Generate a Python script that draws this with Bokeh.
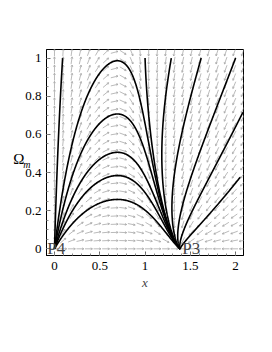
import numpy as np
from bokeh.plotting import figure
from bokeh.models import Label, SingleIntervalTicker, LinearAxis, FixedTicker
from bokeh.embed import file_html
from bokeh.resources import INLINE

# ---- values ----
X_RANGE = (-0.088, 2.087)
Y_RANGE = (-0.035, 1.045)
x_tick_interval = 0.5
y_tick_interval = 0.2
# model parameters of the phase flow (P4 at origin, P3 at (A, 0))
A = 1.39
K = 0.45
S = 0.3
P4 = (0.0, 0.0)
P3 = (A, 0.0)
# arcs P4 -> P3: heights of their maxima
arc_peak_x = 0.695
arc_peaks = [0.986, 0.707, 0.506, 0.384, 0.259]
# trajectories leaving P4: where they end
p4_end_x = [0.09]
p4_end_y = [1.0]
# trajectories entering P3: where they start
p3_start_x = [1.0, 1.29, 1.62, 2.0, 2.08, 2.05]
p3_start_y = [1.0, 1.0, 1.0, 1.0, 0.715, 0.375]
# direction field grid
grid_x = np.linspace(0.0, 2.08, 23)
grid_y = np.linspace(0.0, 1.03, 25)
# y-axis title pieces and where they sit
y_title_main, y_title_main_at = "Ω", 0.472
y_title_sub, y_title_sub_at = "m", 0.443

W, H = 256, 336
BL, BR, BT, BB = 46, 13, 49, 81
SX = (W - BL - BR) / (X_RANGE[1] - X_RANGE[0])
SY = (H - BT - BB) / (Y_RANGE[1] - Y_RANGE[0])
SERIF = "Liberation Serif"


def field(x, w):
    return x * (A - x - K * w * np.tanh((x - A / 2) / S)), w * (A - 2 * x)


def unit(x, w, d):
    vx, vy = field(x, w)
    n = np.hypot(vx * SX, vy * SY)
    if n < 1e-12:
        return 0.0, 0.0
    return d * vx / n, d * vy / n


def integrate(x0, y0, d, h=0.5, nmax=6000):
    xs, ys = [x0], [y0]
    x, y = x0, y0
    for _ in range(nmax):
        k1 = unit(x, y, d)
        k2 = unit(x + h / 2 * k1[0], y + h / 2 * k1[1], d)
        k3 = unit(x + h / 2 * k2[0], y + h / 2 * k2[1], d)
        k4 = unit(x + h * k3[0], y + h * k3[1], d)
        x += h / 6 * (k1[0] + 2 * k2[0] + 2 * k3[0] + k4[0])
        y += h / 6 * (k1[1] + 2 * k2[1] + 2 * k3[1] + k4[1])
        xs.append(x)
        ys.append(y)
        if not (X_RANGE[0] - 0.02 < x < X_RANGE[1] + 0.02 and Y_RANGE[0] - 0.02 < y < 1.0):
            break
        done = False
        for fx, fy in (P4, P3):
            if np.hypot((x - fx) * SX, (y - fy) * SY) < 0.8:
                xs.append(fx)
                ys.append(fy)
                done = True
        if done:
            break
    return xs, ys


def trajectory(x0, y0):
    bx, by = integrate(x0, y0, -1)
    fx, fy = integrate(x0, y0, 1)
    return bx[::-1] + fx[1:], by[::-1] + fy[1:]


p = figure(width=W, height=H, x_range=X_RANGE, y_range=Y_RANGE,
           output_backend="svg", toolbar_location=None,
           min_border_left=BL, min_border_right=BR,
           min_border_top=BT, min_border_bottom=BB)
p.grid.visible = False
p.outline_line_color = "black"
p.outline_line_width = 1
p.background_fill_color = "white"

# direction field
xs0, ys0, xs1, ys1 = [], [], [], []
L = 3.7
for gx in grid_x:
    for gy in grid_y:
        vx, vy = field(gx, gy)
        px, py = vx * SX, vy * SY
        n = np.hypot(px, py)
        if n < 1e-9:
            if gy == 0 and gx == 0:
                px, py, n = 1.0, 0.0, 1.0
            else:
                continue
        ux, uy = px / n, py / n
        tx, ty = gx + L * ux / SX, gy + L * uy / SY
        xs0.append(gx - L * ux / SX); ys0.append(gy - L * uy / SY)
        xs1.append(tx); ys1.append(ty)
        for ang in (0.5, -0.5):
            c, s = np.cos(ang), np.sin(ang)
            hx = -(ux * c - uy * s) * 2.0
            hy = -(ux * s + uy * c) * 2.0
            xs0.append(tx); ys0.append(ty)
            xs1.append(tx + hx / SX); ys1.append(ty + hy / SY)
p.segment(xs0, ys0, xs1, ys1, line_color="#a8a8a8", line_width=0.8)

# trajectories
for h in arc_peaks:
    tx, ty = trajectory(arc_peak_x, h)
    p.line(tx, ty, line_color="black", line_width=1.6)
for sx, sy in zip(p4_end_x, p4_end_y):
    tx, ty = integrate(sx, sy, -1)
    p.line(tx, ty, line_color="black", line_width=1.6)
for sx, sy in zip(p3_start_x, p3_start_y):
    tx, ty = integrate(sx, sy, 1)
    p.line(tx, ty, line_color="black", line_width=1.6)

# axes
p.xaxis.ticker = SingleIntervalTicker(interval=x_tick_interval, num_minor_ticks=5)
p.yaxis.ticker = SingleIntervalTicker(interval=y_tick_interval, num_minor_ticks=4)
for ax in (p.xaxis[0], p.yaxis[0]):
    ax.major_tick_in = 4
    ax.major_tick_out = 0
    ax.minor_tick_in = 2
    ax.minor_tick_out = 0
    ax.major_label_text_font = SERIF
    ax.major_label_text_font_size = "13px"
    ax.major_label_text_color = "black"
    ax.axis_line_color = "black"
    ax.major_tick_line_color = "#666666"
    ax.minor_tick_line_color = "#888888"
p.xaxis[0].major_label_standoff = 6
p.yaxis[0].major_label_standoff = 5
p.xaxis[0].axis_label = "x"
p.xaxis[0].axis_label_text_font = SERIF
p.xaxis[0].axis_label_text_font_style = "italic"
p.xaxis[0].axis_label_text_font_size = "13px"
p.xaxis[0].axis_label_standoff = 2


def title_axis(at, text, size, style, standoff):
    return LinearAxis(ticker=FixedTicker(ticks=[at], minor_ticks=[]),
                      major_label_overrides={at: text},
                      axis_line_color=None, major_tick_line_color=None,
                      minor_tick_line_color=None,
                      major_tick_in=0, major_tick_out=0,
                      minor_tick_in=0, minor_tick_out=0,
                      major_label_standoff=standoff,
                      major_label_text_font=SERIF, major_label_text_font_style=style,
                      major_label_text_font_size=size, major_label_text_color="black")


# y title as horizontal text: subscript axis (inner) and main symbol axis (outer)
p.add_layout(title_axis(y_title_sub_at, y_title_sub, "10px", "italic", -8), "left")
p.add_layout(title_axis(y_title_main_at, y_title_main, "15px", "normal", -4), "left")

p.add_layout(Label(x=0.02, y=0.0, text="P4", text_font=SERIF,
                   text_font_size="17px", text_align="center", text_baseline="middle"))
p.add_layout(Label(x=A + 0.02, y=0.0, text="P3", text_font=SERIF,
                   text_font_size="17px", text_align="left", text_baseline="middle"))

open("out.html", "w").write(file_html(p, INLINE))
